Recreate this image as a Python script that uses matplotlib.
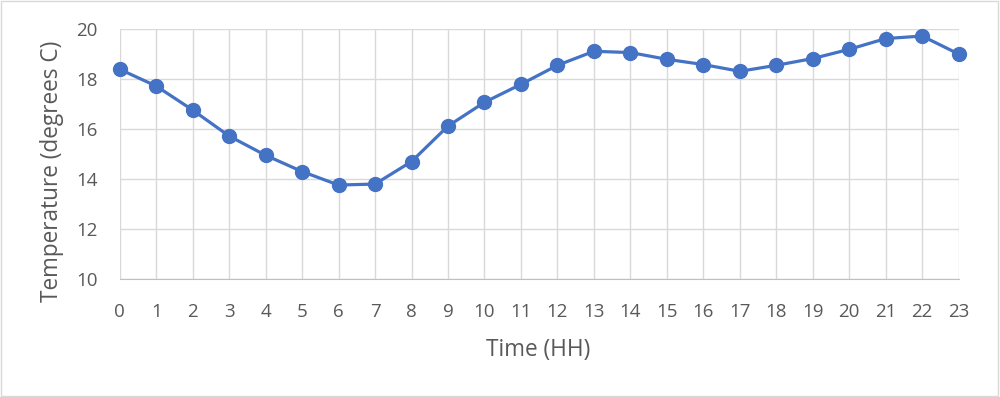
import matplotlib
matplotlib.use("Agg")
import matplotlib.pyplot as plt
from matplotlib.patches import Rectangle

hours = list(range(24))
temps = [18.40, 17.73, 16.77, 15.73, 14.96, 14.31, 13.77, 13.81, 14.71, 16.13,
         17.08, 17.80, 18.56, 19.12, 19.07, 18.80, 18.59, 18.32, 18.56, 18.83,
         19.20, 19.63, 19.73, 19.01]
y_ticks = [10, 12, 14, 16, 18, 20]

plt.rcParams['font.family'] = ['Open Sans', 'DejaVu Sans']

W, H = 1000, 397
fig = plt.figure(figsize=(W / 100, H / 100), dpi=100)
ax = fig.add_axes([119.7 / W, 1 - 279.3 / H, (958.7 - 119.7) / W, (279.3 - 29.3) / H])

ax.plot(hours, temps, color='#4472C4', linewidth=2.3, marker='o',
        markersize=10, markerfacecolor='#4472C4', markeredgecolor='#4472C4',
        zorder=3, clip_on=False)

ax.set_xlim(0, 23)
ax.set_ylim(10, 20)
ax.set_xticks(hours)
ax.set_yticks(y_ticks)
ax.grid(True, color='#d9d9d9', linewidth=1)
ax.set_axisbelow(True)
for s in ['top', 'right', 'left']:
    ax.spines[s].set_visible(False)
ax.spines['bottom'].set_color('#bfbfbf')
ax.tick_params(axis='both', length=0, labelsize=13.5, colors='#595959')
ax.tick_params(axis='x', pad=17)
ax.tick_params(axis='y', pad=16)

fig.text(538.5 / W, 1 - 350 / H, 'Time (HH)', fontsize=16.3, color='#595959',
         ha='center', va='center')
fig.text(52 / W, 1 - 171 / H, 'Temperature (degrees C)', fontsize=16.3,
         color='#595959', ha='center', va='center', rotation=90)

fig.patches.append(Rectangle((0.001, 0.002), 0.997, 0.995, transform=fig.transFigure,
                             fill=False, edgecolor='#d9d9d9', linewidth=1))

fig.savefig('out.png', dpi=100)
